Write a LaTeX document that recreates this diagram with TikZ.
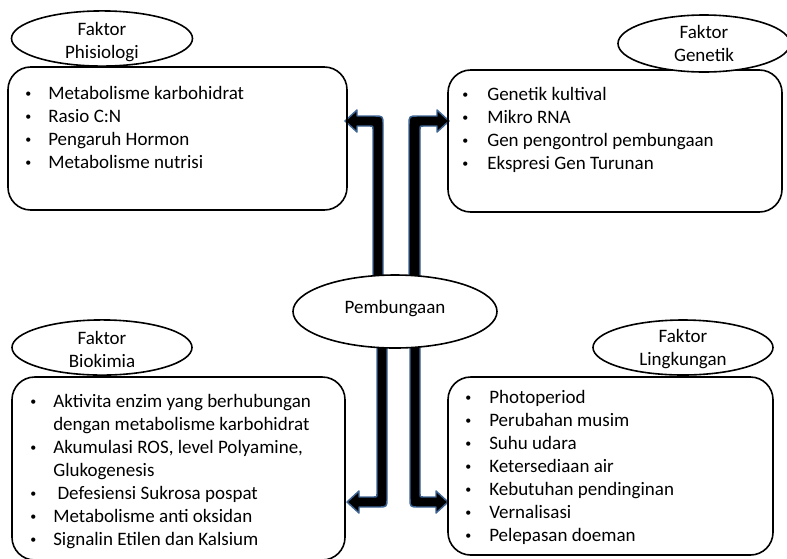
\documentclass[tikz,border=0pt]{standalone}
\usepackage{fontspec}
\setmainfont{Carlito}
\usetikzlibrary{shapes.geometric}
\definecolor{arrowblue}{RGB}{62,100,148}
\newcommand\itm[2]{\makebox[0pt][c]{\raisebox{1.2pt}{\fontsize{9pt}{9pt}\selectfont •}}\hspace{#1}#2}
\newcommand\twoline[2]{\begin{tabular}[b]{@{}c@{}}#1\\#2\end{tabular}}
\begin{document}
\begin{tikzpicture}[x=0.75pt, y=-0.75pt,
  font=\fontsize{14.25pt}{17.25pt}\selectfont,
  box/.style={draw, line width=1.2pt, rounded corners=17pt, inner sep=0pt},
  ell/.style={draw, ellipse, line width=1.2pt, fill=white, inner sep=0pt},
  txt/.style={anchor=base west, inner sep=0pt},
  barrow/.style={fill=black, draw=arrowblue, line width=1.1pt, line join=round}]
\useasboundingbox (0,0) rectangle (787,558);

% block arrows
\draw[barrow] (373,290) -- (373,129) .. controls (373,126) .. (370,126) -- (357,126) -- (357,132)
  -- (345,121) -- (357,110) -- (357,116) -- (374,116) .. controls (383,116) .. (383,125) -- (383,290) -- cycle;
\draw[barrow] (409,290) -- (409,125) .. controls (409,116) .. (418,116) -- (437,116) -- (437,110)
  -- (449,121) -- (437,132) -- (437,126) -- (423,126) .. controls (420,126) .. (420,129) -- (420,290) -- cycle;
\draw[barrow] (377,330) -- (377,494) .. controls (377,497) .. (374,497) -- (359,497) -- (359,491)
  -- (347,502) -- (359,513) -- (359,507) -- (378,507) .. controls (387,507) .. (387,498) -- (387,330) -- cycle;
\draw[barrow] (410,330) -- (410,498) .. controls (410,507) .. (419,507) -- (436,507) -- (436,513)
  -- (448,502) -- (436,491) -- (436,497) -- (423,497) .. controls (420,497) .. (420,494) -- (420,330) -- cycle;

% boxes
\node[box, minimum width=254.25pt, minimum height=107.25pt] (b1) at (177.5,138.5) {};
\node[box, minimum width=250.5pt, minimum height=106.5pt] (b2) at (615,141) {};
\node[box, minimum width=249.75pt, minimum height=137.25pt] (b3) at (178.5,468.5) {};
\node[box, minimum width=243.75pt, minimum height=133.5pt] (b4) at (610.5,466) {};

% ellipses
\node[ell, minimum width=135.75pt, minimum height=39.75pt, text height=29.25pt, text depth=0pt] (e1) at (102,38.5) {\twoline{Faktor}{Phisiologi}};
\node[ell, minimum width=129pt, minimum height=42.75pt, text height=27pt, text depth=0pt] (e2) at (704,43.5) {\twoline{Faktor}{Genetik}};
\node[ell, minimum width=135pt, minimum height=41.25pt, text height=29.25pt, text depth=0pt] (e3) at (102,347.5) {\twoline{Faktor}{Biokimia}};
\node[ell, minimum width=135pt, minimum height=41.25pt, text height=26.25pt, text depth=0pt] (e4) at (683,347.5) {\twoline{Faktor}{Lingkungan}};
\node[ell, minimum width=153pt, minimum height=54.75pt, text height=9pt, text depth=6.75pt] (pb) at (395,311.5) {Pembungaan};

% box texts
\node[txt] (t1) at (28,99) {\begin{tabular}[t]{@{}l@{}}
\itm{15pt}{Metabolisme karbohidrat}\\
\itm{15pt}{Rasio C:N}\\
\itm{15pt}{Pengaruh Hormon}\\
\itm{15pt}{Metabolisme nutrisi}
\end{tabular}};
\node[txt] (t2) at (465,100) {\begin{tabular}[t]{@{}l@{}}
\itm{16.5pt}{Genetik kultival}\\
\itm{16.5pt}{Mikro RNA}\\
\itm{16.5pt}{Gen pengontrol pembungaan}\\
\itm{16.5pt}{Ekspresi Gen Turunan}
\end{tabular}};
\node[txt] (t3) at (33,407) {\begin{tabular}[t]{@{}l@{}}
\itm{15pt}{Aktivita enzim yang berhubungan}\\
\hspace{15pt}dengan metabolisme karbohidrat\\
\itm{15pt}{Akumulasi ROS, level Polyamine,}\\
\hspace{15pt}Glukogenesis\\
\itm{15pt}{\ Defesiensi Sukrosa pospat}\\
\itm{15pt}{Metabolisme anti oksidan}\\
\itm{15pt}{Signalin Etilen dan Kalsium}
\end{tabular}};
\node[txt] (t4) at (468,403) {\begin{tabular}[t]{@{}l@{}}
\itm{15.75pt}{Photoperiod}\\
\itm{15.75pt}{Perubahan musim}\\
\itm{15.75pt}{Suhu udara}\\
\itm{15.75pt}{Ketersediaan air}\\
\itm{15.75pt}{Kebutuhan pendinginan}\\
\itm{15.75pt}{Vernalisasi}\\
\itm{15.75pt}{Pelepasan doeman}
\end{tabular}};
\end{tikzpicture}
\end{document}
